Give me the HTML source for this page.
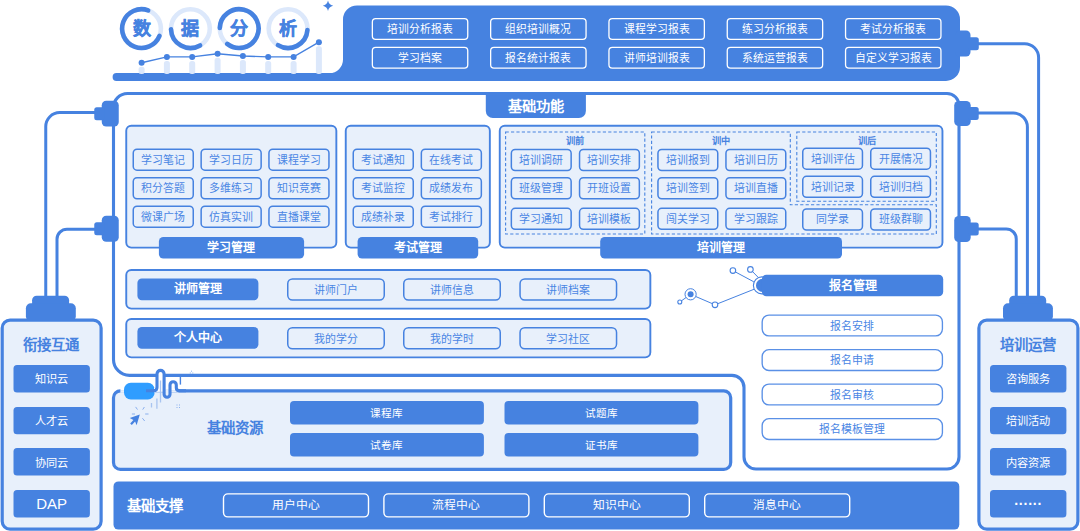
<!DOCTYPE html>
<html lang="zh-CN"><head><meta charset="utf-8"><title>数据分析</title>
<style>
html,body{margin:0;padding:0;background:#fff;}
body{width:1080px;height:531px;position:relative;overflow:hidden;font-family:"Liberation Sans",sans-serif;}
svg{position:absolute;left:0;top:0;}
div{position:absolute;box-sizing:border-box;text-align:center;white-space:nowrap;overflow:visible;height:40px;line-height:40px;}
.stitle{color:#4682E0;font-weight:bold;font-size:14.4px;}
.sbtn{color:#fff;font-size:11.2px;}
.sbtn2{color:#fff;font-size:10.6px;}
.wbtn{color:#fff;font-size:10.8px;}
.wbtn.big{font-size:11.8px;}
.ctitle{color:#4682E0;font-weight:bold;font-size:18px;-webkit-text-stroke:0.4px #4682E0;}
.tab0{color:#fff;font-weight:bold;font-size:14.2px;}
.tab{color:#fff;font-weight:bold;font-size:12px;}
.obtn{color:#4A86E4;font-size:10.9px;}
.mini{color:#4682E0;font-weight:bold;font-size:9.2px;}
.rtitle{color:#4682E0;font-weight:bold;font-size:14.4px;}
.btitle{color:#fff;font-weight:bold;font-size:14.4px;}
</style></head><body>
<svg width="1080" height="531" viewBox="0 0 1080 531">
<path d="M116.5 73.1 H329.5 A13.5 13.5 0 0 0 343 59.6 V19.5 A14 14 0 0 1 357 5.5 H946 A14 14 0 0 1 960 19.5 V66.9 A14 14 0 0 1 946 80.9 H116.5 A3.9 3.9 0 0 1 116.5 73.1 Z" fill="#4682E0"/>
<rect x="138.6" y="66.7" width="6" height="7.3" rx="2.5" fill="#DCE8FB"/>
<rect x="163.9" y="60.9" width="6" height="13.1" rx="2.5" fill="#DCE8FB"/>
<rect x="189.2" y="60.9" width="6" height="13.1" rx="2.5" fill="#DCE8FB"/>
<rect x="214.6" y="57.8" width="6" height="16.2" rx="2.5" fill="#DCE8FB"/>
<rect x="239.9" y="60.0" width="6" height="14.0" rx="2.5" fill="#DCE8FB"/>
<rect x="265.2" y="60.9" width="6" height="13.1" rx="2.5" fill="#DCE8FB"/>
<rect x="290.6" y="60.9" width="6" height="13.1" rx="2.5" fill="#DCE8FB"/>
<rect x="315.9" y="46.2" width="6" height="27.8" rx="2.5" fill="#DCE8FB"/>
<polyline points="141.6,62.7 166.9,56.9 192.2,56.9 217.6,53.8 242.9,56 268.2,56.9 293.6,56.9 318.9,42.2" fill="none" stroke="#4682E0" stroke-width="1.4"/>
<circle cx="141.6" cy="62.7" r="3" fill="#4682E0"/>
<circle cx="166.9" cy="56.9" r="3" fill="#4682E0"/>
<circle cx="192.2" cy="56.9" r="3" fill="#4682E0"/>
<circle cx="217.6" cy="53.8" r="3" fill="#4682E0"/>
<circle cx="242.9" cy="56" r="3" fill="#4682E0"/>
<circle cx="268.2" cy="56.9" r="3" fill="#4682E0"/>
<circle cx="293.6" cy="56.9" r="3" fill="#4682E0"/>
<circle cx="318.9" cy="42.2" r="3" fill="#4682E0"/>
<circle cx="141.5" cy="28.6" r="19.4" fill="none" stroke="#DCE8FB" stroke-width="4.6"/>
<path d="M159.49 35.87A19.4 19.4 0 1 1 148.14 10.37" fill="none" stroke="#4682E0" stroke-width="4.6" stroke-linecap="round"/>
<circle cx="190.4" cy="28.6" r="19.4" fill="none" stroke="#DCE8FB" stroke-width="4.6"/>
<path d="M200.10 45.40A19.4 19.4 0 0 1 171.01 29.28" fill="none" stroke="#4682E0" stroke-width="4.6" stroke-linecap="round"/>
<circle cx="239.2" cy="28.6" r="19.4" fill="none" stroke="#DCE8FB" stroke-width="4.6"/>
<path d="M219.81 27.92A19.4 19.4 0 1 1 227.26 43.89" fill="none" stroke="#4682E0" stroke-width="4.6" stroke-linecap="round"/>
<circle cx="288.1" cy="28.6" r="19.4" fill="none" stroke="#DCE8FB" stroke-width="4.6"/>
<path d="M307.45 29.95A19.4 19.4 0 0 1 277.96 45.14" fill="none" stroke="#4682E0" stroke-width="4.6" stroke-linecap="round"/>
<path d="M328 0.6 Q328.9 4.9 333.2 5.8 Q328.9 6.7 328 11 Q327.1 6.7 322.8 5.8 Q327.1 4.9 328 0.6Z" fill="#4682E0"/>
<path d="M978 43.7 H1024.6 A14 14 0 0 1 1038.6 57.7 V297" fill="none" stroke="#4682E0" stroke-width="3"/>
<path d="M978 113 H1013.4 A14 14 0 0 1 1027.4 127 V297" fill="none" stroke="#4682E0" stroke-width="3"/>
<path d="M978 228.9 H1006.25 A10 10 0 0 1 1016.25 238.9 V297" fill="none" stroke="#4682E0" stroke-width="3"/>
<path d="M95 112.6 H59.75 A14 14 0 0 0 45.75 126.6 V297" fill="none" stroke="#4682E0" stroke-width="3"/>
<path d="M95 229.2 H67 A10 10 0 0 0 57 239.2 V297" fill="none" stroke="#4682E0" stroke-width="3"/>
<path d="M127.5 93.5 H947 A12 12 0 0 1 959 105.5 V457 A12 12 0 0 1 947 469 H756 A12 12 0 0 1 744 457 V387.4 A12 12 0 0 0 732 375.4 H129.5 A16 16 0 0 1 113.5 359.4 V107.5 A14 14 0 0 1 127.5 93.5 Z" fill="#fff" stroke="#4682E0" stroke-width="3.1"/>
<rect x="955" y="30.5" width="15.5" height="26" rx="4.5" fill="#4682E0"/>
<rect x="968" y="37.2" width="10.8" height="13" rx="2.5" fill="#4682E0"/>
<rect x="954.2" y="101" width="16.5" height="25" rx="4.5" fill="#4682E0"/>
<rect x="968.2" y="107.0" width="10.5" height="13" rx="2.5" fill="#4682E0"/>
<rect x="954.2" y="216" width="16.5" height="26" rx="4.5" fill="#4682E0"/>
<rect x="968.2" y="222.5" width="10.5" height="13" rx="2.5" fill="#4682E0"/>
<rect x="101.75" y="100.75" width="17" height="25.75" rx="4.5" fill="#4682E0"/>
<rect x="94.25" y="107.125" width="10" height="13" rx="2.5" fill="#4682E0"/>
<rect x="101.75" y="215.75" width="17" height="26.0" rx="4.5" fill="#4682E0"/>
<rect x="94.25" y="222.25" width="10" height="13" rx="2.5" fill="#4682E0"/>
<rect x="32.1" y="295.7" width="37" height="14" rx="4.5" fill="#4682E0"/>
<rect x="25.900000000000002" y="303.2" width="49.9" height="18" rx="5" fill="#4682E0"/>
<rect x="1009.2" y="295.7" width="37" height="14" rx="4.5" fill="#4682E0"/>
<rect x="1003.0" y="303.2" width="49.9" height="18" rx="5" fill="#4682E0"/>
<rect x="2.20" y="320.10" width="98.90" height="209.10" rx="7.90" fill="#E8F0FB" stroke="#4682E0" stroke-width="3.2"/>
<rect x="978.90" y="320.10" width="99.00" height="209.10" rx="7.90" fill="#E8F0FB" stroke="#4682E0" stroke-width="3.2"/>
<rect x="13.50" y="365.00" width="76.40" height="27.40" rx="3.50" fill="#4682E0" stroke="none" stroke-width="0"/>
<rect x="990.00" y="365.00" width="76.40" height="27.40" rx="3.50" fill="#4682E0" stroke="none" stroke-width="0"/>
<rect x="13.50" y="406.90" width="76.40" height="27.40" rx="3.50" fill="#4682E0" stroke="none" stroke-width="0"/>
<rect x="990.00" y="406.90" width="76.40" height="27.40" rx="3.50" fill="#4682E0" stroke="none" stroke-width="0"/>
<rect x="13.50" y="448.10" width="76.40" height="27.40" rx="3.50" fill="#4682E0" stroke="none" stroke-width="0"/>
<rect x="990.00" y="448.10" width="76.40" height="27.40" rx="3.50" fill="#4682E0" stroke="none" stroke-width="0"/>
<rect x="13.50" y="490.00" width="76.40" height="27.40" rx="3.50" fill="#4682E0" stroke="none" stroke-width="0"/>
<rect x="990.00" y="490.00" width="76.40" height="27.40" rx="3.50" fill="#4682E0" stroke="none" stroke-width="0"/>
<rect x="372.35" y="18.65" width="95.40" height="20.70" rx="3.35" fill="none" stroke="#fff" stroke-width="1.3"/>
<rect x="372.35" y="47.45" width="95.40" height="20.70" rx="3.35" fill="none" stroke="#fff" stroke-width="1.3"/>
<rect x="490.65" y="18.65" width="95.40" height="20.70" rx="3.35" fill="none" stroke="#fff" stroke-width="1.3"/>
<rect x="490.65" y="47.45" width="95.40" height="20.70" rx="3.35" fill="none" stroke="#fff" stroke-width="1.3"/>
<rect x="608.95" y="18.65" width="95.40" height="20.70" rx="3.35" fill="none" stroke="#fff" stroke-width="1.3"/>
<rect x="608.95" y="47.45" width="95.40" height="20.70" rx="3.35" fill="none" stroke="#fff" stroke-width="1.3"/>
<rect x="727.25" y="18.65" width="95.40" height="20.70" rx="3.35" fill="none" stroke="#fff" stroke-width="1.3"/>
<rect x="727.25" y="47.45" width="95.40" height="20.70" rx="3.35" fill="none" stroke="#fff" stroke-width="1.3"/>
<rect x="845.55" y="18.65" width="95.40" height="20.70" rx="3.35" fill="none" stroke="#fff" stroke-width="1.3"/>
<rect x="845.55" y="47.45" width="95.40" height="20.70" rx="3.35" fill="none" stroke="#fff" stroke-width="1.3"/>
<path d="M485.8 93 H585.9 V111 A7 7 0 0 1 578.9 118 H492.8 A7 7 0 0 1 485.8 111 Z" fill="#4682E0"/>
<rect x="126.25" y="125.75" width="210.10" height="121.90" rx="5.05" fill="#E8F0FB" stroke="#4682E0" stroke-width="1.9"/>
<rect x="345.75" y="125.75" width="144.10" height="121.90" rx="5.05" fill="#E8F0FB" stroke="#4682E0" stroke-width="1.9"/>
<rect x="499.75" y="125.75" width="442.70" height="121.90" rx="5.05" fill="#E8F0FB" stroke="#4682E0" stroke-width="1.9"/>
<rect x="126.25" y="269.95" width="524.10" height="38.70" rx="5.05" fill="#E8F0FB" stroke="#4682E0" stroke-width="1.9"/>
<rect x="126.25" y="318.95" width="524.10" height="38.40" rx="5.05" fill="#E8F0FB" stroke="#4682E0" stroke-width="1.9"/>
<rect x="158.90" y="237.00" width="145.20" height="21.50" rx="4.50" fill="#4682E0" stroke="none" stroke-width="0"/>
<rect x="357.60" y="237.00" width="120.60" height="21.50" rx="4.50" fill="#4682E0" stroke="none" stroke-width="0"/>
<rect x="600.20" y="237.00" width="241.80" height="21.50" rx="4.50" fill="#4682E0" stroke="none" stroke-width="0"/>
<rect x="133.25" y="149.15" width="60.00" height="21.00" rx="3.75" fill="#E8F0FB" stroke="#4682E0" stroke-width="1.5"/>
<rect x="201.15" y="149.15" width="60.00" height="21.00" rx="3.75" fill="#E8F0FB" stroke="#4682E0" stroke-width="1.5"/>
<rect x="268.95" y="149.15" width="60.00" height="21.00" rx="3.75" fill="#E8F0FB" stroke="#4682E0" stroke-width="1.5"/>
<rect x="133.25" y="177.75" width="60.00" height="21.00" rx="3.75" fill="#E8F0FB" stroke="#4682E0" stroke-width="1.5"/>
<rect x="201.15" y="177.75" width="60.00" height="21.00" rx="3.75" fill="#E8F0FB" stroke="#4682E0" stroke-width="1.5"/>
<rect x="268.95" y="177.75" width="60.00" height="21.00" rx="3.75" fill="#E8F0FB" stroke="#4682E0" stroke-width="1.5"/>
<rect x="133.25" y="206.15" width="60.00" height="21.00" rx="3.75" fill="#E8F0FB" stroke="#4682E0" stroke-width="1.5"/>
<rect x="201.15" y="206.15" width="60.00" height="21.00" rx="3.75" fill="#E8F0FB" stroke="#4682E0" stroke-width="1.5"/>
<rect x="268.95" y="206.15" width="60.00" height="21.00" rx="3.75" fill="#E8F0FB" stroke="#4682E0" stroke-width="1.5"/>
<rect x="353.25" y="149.15" width="60.00" height="21.00" rx="3.75" fill="#E8F0FB" stroke="#4682E0" stroke-width="1.5"/>
<rect x="421.35" y="149.15" width="60.00" height="21.00" rx="3.75" fill="#E8F0FB" stroke="#4682E0" stroke-width="1.5"/>
<rect x="353.25" y="177.75" width="60.00" height="21.00" rx="3.75" fill="#E8F0FB" stroke="#4682E0" stroke-width="1.5"/>
<rect x="421.35" y="177.75" width="60.00" height="21.00" rx="3.75" fill="#E8F0FB" stroke="#4682E0" stroke-width="1.5"/>
<rect x="353.25" y="206.15" width="60.00" height="21.00" rx="3.75" fill="#E8F0FB" stroke="#4682E0" stroke-width="1.5"/>
<rect x="421.35" y="206.15" width="60.00" height="21.00" rx="3.75" fill="#E8F0FB" stroke="#4682E0" stroke-width="1.5"/>
<rect x="511.35" y="149.55" width="59.80" height="21.00" rx="3.75" fill="#E8F0FB" stroke="#4682E0" stroke-width="1.5"/>
<rect x="657.95" y="149.55" width="59.80" height="21.00" rx="3.75" fill="#E8F0FB" stroke="#4682E0" stroke-width="1.5"/>
<rect x="579.55" y="149.55" width="59.80" height="21.00" rx="3.75" fill="#E8F0FB" stroke="#4682E0" stroke-width="1.5"/>
<rect x="725.95" y="149.55" width="59.80" height="21.00" rx="3.75" fill="#E8F0FB" stroke="#4682E0" stroke-width="1.5"/>
<rect x="511.35" y="177.75" width="59.80" height="21.00" rx="3.75" fill="#E8F0FB" stroke="#4682E0" stroke-width="1.5"/>
<rect x="657.95" y="177.75" width="59.80" height="21.00" rx="3.75" fill="#E8F0FB" stroke="#4682E0" stroke-width="1.5"/>
<rect x="579.55" y="177.75" width="59.80" height="21.00" rx="3.75" fill="#E8F0FB" stroke="#4682E0" stroke-width="1.5"/>
<rect x="725.95" y="177.75" width="59.80" height="21.00" rx="3.75" fill="#E8F0FB" stroke="#4682E0" stroke-width="1.5"/>
<rect x="511.35" y="208.35" width="59.80" height="21.00" rx="3.75" fill="#E8F0FB" stroke="#4682E0" stroke-width="1.5"/>
<rect x="657.95" y="208.35" width="59.80" height="21.00" rx="3.75" fill="#E8F0FB" stroke="#4682E0" stroke-width="1.5"/>
<rect x="579.55" y="208.35" width="59.80" height="21.00" rx="3.75" fill="#E8F0FB" stroke="#4682E0" stroke-width="1.5"/>
<rect x="725.95" y="208.35" width="59.80" height="21.00" rx="3.75" fill="#E8F0FB" stroke="#4682E0" stroke-width="1.5"/>
<rect x="802.75" y="148.15" width="59.70" height="21.00" rx="3.75" fill="#E8F0FB" stroke="#4682E0" stroke-width="1.5"/>
<rect x="870.75" y="148.15" width="59.70" height="21.00" rx="3.75" fill="#E8F0FB" stroke="#4682E0" stroke-width="1.5"/>
<rect x="802.75" y="176.35" width="59.70" height="21.00" rx="3.75" fill="#E8F0FB" stroke="#4682E0" stroke-width="1.5"/>
<rect x="870.75" y="176.35" width="59.70" height="21.00" rx="3.75" fill="#E8F0FB" stroke="#4682E0" stroke-width="1.5"/>
<rect x="802.75" y="208.95" width="59.70" height="21.00" rx="3.75" fill="#E8F0FB" stroke="#4682E0" stroke-width="1.5"/>
<rect x="870.75" y="208.95" width="59.70" height="21.00" rx="3.75" fill="#E8F0FB" stroke="#4682E0" stroke-width="1.5"/>
<rect x="137.40" y="278.40" width="121.00" height="21.80" rx="4.50" fill="#4682E0" stroke="none" stroke-width="0"/>
<rect x="137.40" y="327.00" width="121.00" height="21.80" rx="4.50" fill="#4682E0" stroke="none" stroke-width="0"/>
<rect x="287.75" y="278.95" width="96.50" height="21.10" rx="4.75" fill="#E8F0FB" stroke="#4682E0" stroke-width="1.5"/>
<rect x="287.75" y="327.65" width="96.50" height="21.10" rx="4.75" fill="#E8F0FB" stroke="#4682E0" stroke-width="1.5"/>
<rect x="403.75" y="278.95" width="96.50" height="21.10" rx="4.75" fill="#E8F0FB" stroke="#4682E0" stroke-width="1.5"/>
<rect x="403.75" y="327.65" width="96.50" height="21.10" rx="4.75" fill="#E8F0FB" stroke="#4682E0" stroke-width="1.5"/>
<rect x="520.05" y="278.95" width="96.50" height="21.10" rx="4.75" fill="#E8F0FB" stroke="#4682E0" stroke-width="1.5"/>
<rect x="520.05" y="327.65" width="96.50" height="21.10" rx="4.75" fill="#E8F0FB" stroke="#4682E0" stroke-width="1.5"/>
<circle cx="761.9" cy="285.4" r="8.5" fill="#fff" stroke="#4682E0" stroke-width="1.1"/>
<circle cx="762.6" cy="285.4" r="6.6" fill="#4682E0"/>
<rect x="761.90" y="274.80" width="181.30" height="21.50" rx="4.50" fill="#4682E0" stroke="none" stroke-width="0"/>
<rect x="762.17" y="315.07" width="180.25" height="20.85" rx="6.83" fill="#fff" stroke="#5A90E6" stroke-width="1.35"/>
<rect x="762.17" y="349.68" width="180.25" height="20.85" rx="6.83" fill="#fff" stroke="#5A90E6" stroke-width="1.35"/>
<rect x="762.17" y="384.07" width="180.25" height="20.85" rx="6.83" fill="#fff" stroke="#5A90E6" stroke-width="1.35"/>
<rect x="762.17" y="418.68" width="180.25" height="20.85" rx="6.83" fill="#fff" stroke="#5A90E6" stroke-width="1.35"/>
<rect x="113.50" y="390.80" width="617.20" height="78.60" rx="6.90" fill="#E8F0FB" stroke="#4682E0" stroke-width="3.2"/>
<rect x="290.00" y="401.00" width="193.90" height="23.50" rx="4.00" fill="#4682E0" stroke="none" stroke-width="0"/>
<rect x="504.50" y="401.00" width="193.90" height="23.50" rx="4.00" fill="#4682E0" stroke="none" stroke-width="0"/>
<rect x="290.00" y="433.00" width="193.90" height="23.50" rx="4.00" fill="#4682E0" stroke="none" stroke-width="0"/>
<rect x="504.50" y="433.00" width="193.90" height="23.50" rx="4.00" fill="#4682E0" stroke="none" stroke-width="0"/>
<rect x="113.50" y="481.40" width="845.80" height="48.20" rx="5.00" fill="#4682E0" stroke="none" stroke-width="0"/>
<rect x="223.50" y="493.90" width="145.00" height="23.00" rx="4.30" fill="none" stroke="#fff" stroke-width="1.4"/>
<rect x="383.90" y="493.90" width="145.00" height="23.00" rx="4.30" fill="none" stroke="#fff" stroke-width="1.4"/>
<rect x="544.30" y="493.90" width="145.00" height="23.00" rx="4.30" fill="none" stroke="#fff" stroke-width="1.4"/>
<rect x="704.70" y="493.90" width="145.00" height="23.00" rx="4.30" fill="none" stroke="#fff" stroke-width="1.4"/>
</svg>
<div class="stitle" style="left:0.5px;top:325px;width:101.3px;">衔接互通</div>
<div class="stitle" style="left:977.8px;top:325px;width:101.3px;">培训运营</div>
<div class="sbtn" style="left:13.5px;top:359px;width:76.4px;">知识云</div>
<div class="sbtn" style="left:990px;top:359px;width:76.4px;">咨询服务</div>
<div class="sbtn" style="left:13.5px;top:401px;width:76.4px;">人才云</div>
<div class="sbtn" style="left:990px;top:401px;width:76.4px;">培训活动</div>
<div class="sbtn" style="left:13.5px;top:443px;width:76.4px;">协同云</div>
<div class="sbtn" style="left:990px;top:443px;width:76.4px;">内容资源</div>
<div class="sbtn" style="left:13.5px;top:484px;width:76.4px;font-size:15px;">DAP</div>
<div class="sbtnt" style="left:990px;top:484px;width:76.4px;font-size:14px;font-weight:bold;color:#fff;">······</div>
<div class="wbtn" style="left:371.7px;top:9px;width:96.7px;">培训分析报表</div>
<div class="wbtn" style="left:371.7px;top:38px;width:96.7px;">学习档案</div>
<div class="wbtn" style="left:490.0px;top:9px;width:96.7px;">组织培训概况</div>
<div class="wbtn" style="left:490.0px;top:38px;width:96.7px;">报名统计报表</div>
<div class="wbtn" style="left:608.3px;top:9px;width:96.7px;">课程学习报表</div>
<div class="wbtn" style="left:608.3px;top:38px;width:96.7px;">讲师培训报表</div>
<div class="wbtn" style="left:726.5999999999999px;top:9px;width:96.7px;">练习分析报表</div>
<div class="wbtn" style="left:726.5999999999999px;top:38px;width:96.7px;">系统运营报表</div>
<div class="wbtn" style="left:844.9px;top:9px;width:96.7px;">考试分析报表</div>
<div class="wbtn" style="left:844.9px;top:38px;width:96.7px;">自定义学习报表</div>
<div class="ctitle" style="left:126.5px;top:9px;width:30px;">数</div>
<div class="ctitle" style="left:175.4px;top:9px;width:30px;">据</div>
<div class="ctitle" style="left:224.2px;top:9px;width:30px;">分</div>
<div class="ctitle" style="left:273.1px;top:9px;width:30px;">析</div>
<div class="tab0" style="left:485.8px;top:86px;width:100.1px;">基础功能</div>
<div class="tab" style="left:158.9px;top:228px;width:145.2px;">学习管理</div>
<div class="tab" style="left:357.6px;top:228px;width:120.6px;">考试管理</div>
<div class="tab" style="left:600.2px;top:228px;width:241.8px;">培训管理</div>
<div class="obtn" style="left:132.5px;top:140px;width:61.5px;">学习笔记</div>
<div class="obtn" style="left:200.4px;top:140px;width:61.5px;">学习日历</div>
<div class="obtn" style="left:268.2px;top:140px;width:61.5px;">课程学习</div>
<div class="obtn" style="left:132.5px;top:168px;width:61.5px;">积分答题</div>
<div class="obtn" style="left:200.4px;top:168px;width:61.5px;">多维练习</div>
<div class="obtn" style="left:268.2px;top:168px;width:61.5px;">知识竞赛</div>
<div class="obtn" style="left:132.5px;top:197px;width:61.5px;">微课广场</div>
<div class="obtn" style="left:200.4px;top:197px;width:61.5px;">仿真实训</div>
<div class="obtn" style="left:268.2px;top:197px;width:61.5px;">直播课堂</div>
<div class="obtn" style="left:352.5px;top:140px;width:61.5px;">考试通知</div>
<div class="obtn" style="left:420.6px;top:140px;width:61.5px;">在线考试</div>
<div class="obtn" style="left:352.5px;top:168px;width:61.5px;">考试监控</div>
<div class="obtn" style="left:420.6px;top:168px;width:61.5px;">成绩发布</div>
<div class="obtn" style="left:352.5px;top:197px;width:61.5px;">成绩补录</div>
<div class="obtn" style="left:420.6px;top:197px;width:61.5px;">考试排行</div>
<div class="obtn" style="left:510.6px;top:140px;width:61.3px;">培训调研</div>
<div class="obtn" style="left:657.2px;top:140px;width:61.3px;">培训报到</div>
<div class="obtn" style="left:578.8px;top:140px;width:61.3px;">培训安排</div>
<div class="obtn" style="left:725.2px;top:140px;width:61.3px;">培训日历</div>
<div class="obtn" style="left:510.6px;top:168px;width:61.3px;">班级管理</div>
<div class="obtn" style="left:657.2px;top:168px;width:61.3px;">培训签到</div>
<div class="obtn" style="left:578.8px;top:168px;width:61.3px;">开班设置</div>
<div class="obtn" style="left:725.2px;top:168px;width:61.3px;">培训直播</div>
<div class="obtn" style="left:510.6px;top:199px;width:61.3px;">学习通知</div>
<div class="obtn" style="left:657.2px;top:199px;width:61.3px;">闯关学习</div>
<div class="obtn" style="left:578.8px;top:199px;width:61.3px;">培训模板</div>
<div class="obtn" style="left:725.2px;top:199px;width:61.3px;">学习跟踪</div>
<div class="obtn" style="left:802px;top:139px;width:61.2px;">培训评估</div>
<div class="obtn" style="left:870px;top:139px;width:61.2px;">开展情况</div>
<div class="obtn" style="left:802px;top:167px;width:61.2px;">培训记录</div>
<div class="obtn" style="left:870px;top:167px;width:61.2px;">培训归档</div>
<div class="obtn" style="left:802px;top:199px;width:61.2px;">同学录</div>
<div class="obtn" style="left:870px;top:199px;width:61.2px;">班级群聊</div>
<div class="mini" style="left:555.3px;top:121px;width:40px;">训前</div>
<div class="mini" style="left:701px;top:121px;width:40px;">训中</div>
<div class="mini" style="left:846.5px;top:121px;width:40px;">训后</div>
<div class="tab" style="left:137.4px;top:269px;width:121px;">讲师管理</div>
<div class="tab" style="left:137.4px;top:318px;width:121px;">个人中心</div>
<div class="obtn r5" style="left:287px;top:270px;width:98px;">讲师门户</div>
<div class="obtn r5" style="left:287px;top:319px;width:98px;">我的学分</div>
<div class="obtn r5" style="left:403px;top:270px;width:98px;">讲师信息</div>
<div class="obtn r5" style="left:403px;top:319px;width:98px;">我的学时</div>
<div class="obtn r5" style="left:519.3px;top:270px;width:98px;">讲师档案</div>
<div class="obtn r5" style="left:519.3px;top:319px;width:98px;">学习社区</div>
<div class="tab" style="left:761.9px;top:266px;width:181.3px;">报名管理</div>
<div class="obtn wl" style="left:761.5px;top:306px;width:181.6px;">报名安排</div>
<div class="obtn wl" style="left:761.5px;top:340px;width:181.6px;">报名申请</div>
<div class="obtn wl" style="left:761.5px;top:375px;width:181.6px;">报名审核</div>
<div class="obtn wl" style="left:761.5px;top:409px;width:181.6px;">报名模板管理</div>
<div class="rtitle" style="left:205.2px;top:408px;width:60px;">基础资源</div>
<div class="sbtn2" style="left:290px;top:393px;width:193.9px;">课程库</div>
<div class="sbtn2" style="left:504.5px;top:393px;width:193.9px;">试题库</div>
<div class="sbtn2" style="left:290px;top:425px;width:193.9px;">试卷库</div>
<div class="sbtn2" style="left:504.5px;top:425px;width:193.9px;">证书库</div>
<div class="btitle" style="left:123.85px;top:486px;width:62px;">基础支撑</div>
<div class="wbtn big" style="left:222.8px;top:485px;width:146.4px;">用户中心</div>
<div class="wbtn big" style="left:383.20000000000005px;top:485px;width:146.4px;">流程中心</div>
<div class="wbtn big" style="left:543.6px;top:485px;width:146.4px;">知识中心</div>
<div class="wbtn big" style="left:704.0px;top:485px;width:146.4px;">消息中心</div>
<svg width="1080" height="531" viewBox="0 0 1080 531" style="pointer-events:none">
<rect x="505.6" y="132" width="139.2" height="102" fill="none" stroke="#4682E0" stroke-width="1.1" stroke-dasharray="3.2 2.2"/>
<path d="M651.6 132 H790.3 V204.8 H936.3 V234 H651.6 Z" fill="none" stroke="#4682E0" stroke-width="1.1" stroke-dasharray="3.2 2.2"/>
<rect x="796.8" y="132" width="139.5" height="69.2" fill="none" stroke="#4682E0" stroke-width="1.1" stroke-dasharray="3.2 2.2"/>
<path d="M732.9 270.6 L753.8 281.8 M750.4 269.4 L758 277.2 M754.2 289.2 L715 304.8 L690.6 294.3 L679.8 302" stroke="#4682E0" stroke-width="1" fill="none"/>
<circle cx="732.9" cy="270.6" r="2.8" fill="#fff" stroke="#4682E0" stroke-width="1.1"/>
<circle cx="750.4" cy="269.4" r="2.8" fill="#fff" stroke="#4682E0" stroke-width="1.1"/>
<circle cx="715" cy="304.8" r="2.8" fill="#fff" stroke="#4682E0" stroke-width="1.1"/>
<circle cx="679.8" cy="302" r="2" fill="#fff" stroke="#4682E0" stroke-width="1.1"/>
<circle cx="690.6" cy="294.3" r="5.6" fill="#fff" stroke="#4682E0" stroke-width="1"/>
<circle cx="690.6" cy="294.3" r="3" fill="#4682E0"/>
<rect x="120.4" y="387.5" width="6" height="3.3" fill="#fff"/>
<rect x="120.4" y="390.8" width="6" height="2" fill="#E8F0FB"/>
<rect x="124" y="382.8" width="30.6" height="16.7" rx="6.8" fill="#2F9DFF"/>
<rect x="154" y="388" width="24.5" height="2.8" fill="#fff"/>
<rect x="154" y="390.8" width="24.5" height="1.7" fill="#E8F0FB"/>
<rect x="158" y="371" width="5" height="20" fill="#fff"/>
<rect x="165.3" y="389" width="3.6" height="7" fill="#E8F0FB"/>
<path d="M146 390.7 H153.6 Q157 390.7 157 387.2 V373.9 A3.55 3.55 0 0 1 164.1 373.9 V394.3 A2.95 2.95 0 0 0 170 394.3 V384.9 A3.15 3.15 0 0 1 176.3 384.9 V387.8 Q176.3 390.8 179.5 390.8 H186" fill="none" stroke="#4682E0" stroke-width="3.1"/>
<path d="M180.4 376 V384.6" stroke="#4682E0" stroke-width="1.4" fill="none"/>
<path d="M160.5 380.6 V402.5 M156.9 398.6 V408.8 M151.5 402.9 V407.5" stroke="#A8C4F0" stroke-width="1.3" fill="none"/>
<path d="M139.8 414.4 L129.8 418.1 L133.4 420 L130.2 423.4 L131.8 425 L135.1 421.6 L136.6 425.3 Z" fill="#4682E0"/>
<path d="M135.6 406.9 L137.5 409.6 M144.4 407 L142.7 409.6 M131.9 414 H135 M145.2 414 H148.5 M142.4 418.2 L144.7 421" stroke="#7FA8EC" stroke-width="0.9" fill="none"/>
<path d="M176.5 405 h1 M179 405 h1 M176.5 407.5 h1 M179 407.5 h1 M189.8 373 h1 M192.3 373 h1 M191 371.2 h1" stroke="#7FA8EC" stroke-width="0.9" fill="none"/>
</svg>
</body></html>
